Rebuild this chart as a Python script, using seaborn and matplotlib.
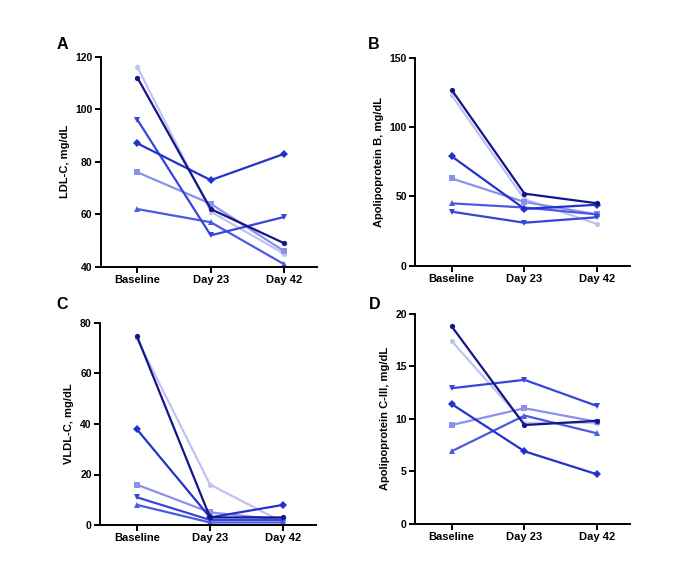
import pandas as pd
import matplotlib
matplotlib.use("Agg")
import matplotlib.pyplot as plt
import seaborn as sns

# Visits and patients
visits = ["Baseline", "Day 23", "Day 42"]
patients = ["P1", "P2", "P3", "P4", "P5", "P6"]

# Values per patient (P1 light circle, P2 square, P3 triangle up,
# P4 triangle down, P5 diamond, P6 navy circle)
ldl = [[116, 61, 45], [76, 64, 46], [62, 57, 41],
       [96, 52, 59], [87, 73, 83], [112, 62, 49]]
apob = [[123, 48, 30], [63, 46, 37], [45, 42, 37],
        [39, 31, 35], [79, 41, 44], [127, 52, 45]]
vldl = [[74, 16, 1], [16, 5, 2], [8, 1, 1],
        [11, 2, 2], [38, 3, 8], [75, 3, 3]]
apoc3 = [[17.4, 9.6, 9.6], [9.4, 11.0, 9.7], [6.9, 10.3, 8.6],
         [12.9, 13.7, 11.2], [11.4, 6.9, 4.7], [18.8, 9.4, 9.8]]

colors = {"P1": "#c2c2f2", "P2": "#8a90ee", "P3": "#4a5ae2",
          "P4": "#3646da", "P5": "#2432cc", "P6": "#15158a"}
markers = {"P1": "o", "P2": "s", "P3": "^", "P4": "v", "P5": "D", "P6": "o"}

# letter, data, y label, y range, y ticks, axes rect, letter position (px)
panels = [
    ("A", ldl, "LDL-C, mg/dL", (40, 120), [40, 60, 80, 100, 120],
     [0.147, 0.543, 0.316, 0.360], (57, 49)),
    ("B", apob, "Apolipoprotein B, mg/dL", (0, 150), [0, 50, 100, 150],
     [0.606, 0.545, 0.314, 0.356], (368, 49)),
    ("C", vldl, "VLDL-C, mg/dL", (0, 80), [0, 20, 40, 60, 80],
     [0.146, 0.101, 0.316, 0.346], (56, 309)),
    ("D", apoc3, "Apolipoprotein C-III, mg/dL", (0, 20), [0, 5, 10, 15, 20],
     [0.606, 0.103, 0.314, 0.360], (369, 309)),
]

sns.set_style("ticks")
plt.rcParams["font.family"] = ["Liberation Sans", "DejaVu Sans"]
plt.rcParams["font.weight"] = "bold"
plt.rcParams["text.color"] = "black"
plt.rcParams["axes.labelcolor"] = "black"
plt.rcParams["xtick.color"] = "black"
plt.rcParams["ytick.color"] = "black"
plt.rcParams["axes.edgecolor"] = "black"

W, H = 685, 584
fig = plt.figure(figsize=(W / 100, H / 100), dpi=100)

for letter, values, ylabel, ylim, yticks, pos, lpos in panels:
    rows = []
    for p, vals in zip(patients, values):
        for i, v in enumerate(vals):
            rows.append({"patient": p, "visit": i, "value": v})
    df = pd.DataFrame(rows)

    ax = fig.add_axes(pos)
    sns.lineplot(data=df, x="visit", y="value", hue="patient", style="patient",
                 palette=colors, markers=markers, dashes=False, legend=False,
                 linewidth=1.6, markersize=3.8, markeredgewidth=0, ax=ax)

    ax.set_xlim(-0.5, 2.45)
    ax.set_ylim(*ylim)
    ax.set_yticks(yticks)
    ax.set_xticks(range(len(visits)))
    ax.set_xticklabels(visits, fontsize=8, fontweight="bold")
    ax.set_yticklabels([str(t) for t in yticks], fontsize=7.5, fontweight="bold")
    ax.set_xlabel("")
    ax.set_ylabel(ylabel, fontsize=8, fontweight="bold")
    for s in ["left", "bottom"]:
        ax.spines[s].set_linewidth(1.4)
    sns.despine(ax=ax)
    ax.tick_params(width=1.4, length=4, pad=2)
    fig.text(lpos[0] / W, 1 - lpos[1] / H, letter, fontsize=11.5,
             fontweight="bold", ha="left", va="baseline")

fig.savefig("out.png", dpi=100)
